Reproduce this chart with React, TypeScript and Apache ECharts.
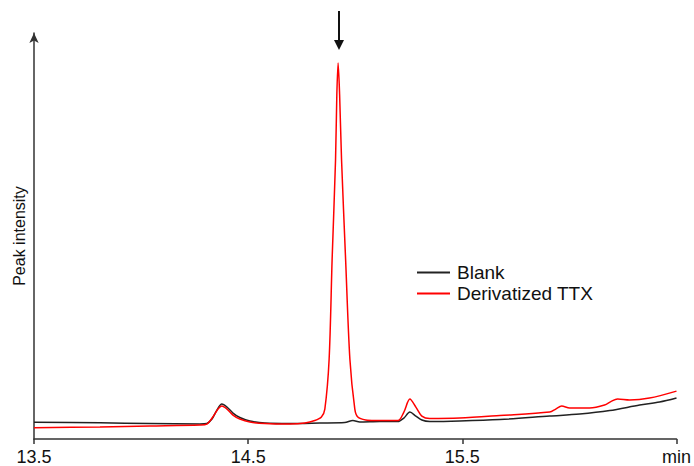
import React, { useEffect, useRef } from "react";
import * as echarts from "echarts";

const xTicks = [13.5, 14.5, 15.5, 16.5];
const xTickLabels = ["13.5", "14.5", "15.5", "min"];
const seriesNames = ["Blank", "Derivatized TTX"];

const blankTime = [
  13.5, 13.808, 14.041, 14.275, 14.307, 14.331, 14.354, 14.377, 14.401, 14.429, 14.461, 14.508,
  14.578, 14.695, 14.835, 14.951, 14.989, 15.021, 15.115, 15.199, 15.227, 15.255, 15.283, 15.311,
  15.348, 15.488, 15.675, 15.908, 16.048, 16.188, 16.328, 16.421, 16.5,
];
const blankValue = [
  16.7, 16.2, 15.5, 15, 15.5, 20, 29, 35, 32, 26, 21.5, 18,
  16, 15.5, 16, 16.5, 18.5, 17, 17.5, 17.5, 21, 27, 23, 19,
  17.5, 18, 19.5, 23, 25, 28.5, 34, 37, 41,
];

const ttxTime = [
  13.5, 13.808, 14.041, 14.275, 14.307, 14.335, 14.359, 14.377, 14.401, 14.429, 14.461, 14.508,
  14.578, 14.695, 14.765, 14.811, 14.842, 14.858, 14.878, 14.892, 14.908, 14.914, 14.92, 14.927,
  14.936, 14.955, 14.975, 14.998, 15.012, 15.049, 15.092, 15.199, 15.227, 15.255, 15.283, 15.311,
  15.348, 15.488, 15.675, 15.908, 15.936, 15.964, 16.001, 16.094, 16.164, 16.197, 16.225, 16.281,
  16.374, 16.5,
];
const ttxValue = [
  11.3, 12, 13, 14, 15, 22, 30, 33, 30, 24, 20, 17,
  15.5, 15, 16, 18.5, 22, 30, 80, 180, 280, 345, 377, 345,
  280, 180, 80, 30, 22, 19, 18.5, 18.5, 27, 40, 32, 23,
  20.5, 21, 23.5, 27, 30, 33, 31, 31, 34, 38, 40, 39,
  41, 48,
];

const FONT = "'Liberation Sans', Arial, sans-serif";

export default function App() {
  const ref = useRef<HTMLDivElement>(null);
  useEffect(() => {
    if (!ref.current) return;
    const chart = echarts.init(ref.current, undefined, { renderer: "svg" });
    const pair = (t: number[], v: number[]) => t.map((x, i) => [x, v[i]]);
    chart.setOption({
      animation: false,
      textStyle: { fontFamily: FONT },
      grid: { left: 34, right: 17, top: 33, bottom: 26, containLabel: false },
      legend: {
        left: 417,
        top: 262,
        padding: 0,
        orient: "vertical",
        icon: "rect",
        itemWidth: 33,
        itemHeight: 2,
        itemGap: 0,
        textStyle: { fontFamily: FONT, fontSize: 19, color: "#111", lineHeight: 21, padding: [0, 0, 0, 2] },
        data: seriesNames,
      },
      xAxis: {
        type: "value",
        min: 13.5,
        max: 16.5,
        interval: 1,
        axisLine: { show: true, lineStyle: { color: "#333", width: 1.5 } },
        axisTick: { show: true, length: 5, lineStyle: { color: "#333", width: 1.5 } },
        axisLabel: {
          fontFamily: FONT,
          fontSize: 18,
          color: "#111",
          margin: 9,
          formatter: (v: number) => {
            const i = xTicks.findIndex((t) => Math.abs(t - v) < 1e-6);
            return i >= 0 ? xTickLabels[i] : "";
          },
        },
        splitLine: { show: false },
      },
      yAxis: {
        type: "value",
        min: 0,
        max: 407,
        name: "Peak intensity",
        nameLocation: "middle",
        nameGap: 7,
        nameTextStyle: { fontFamily: FONT, fontSize: 16, color: "#111" },
        axisLine: {
          show: true,
          symbol: ["none", "arrow"],
          symbolSize: [7, 10],
          lineStyle: { color: "#333", width: 1.5 },
        },
        axisTick: { show: false },
        axisLabel: { show: false },
        splitLine: { show: false },
      },
      graphic: [
        { type: "line", shape: { x1: 339, y1: 11, x2: 339, y2: 42 }, style: { stroke: "#111", lineWidth: 2 } },
        { type: "polygon", shape: { points: [[334, 40], [344, 40], [339, 50]] }, style: { fill: "#111" } },
      ],
      series: [
        {
          name: seriesNames[0],
          type: "line",
          data: pair(blankTime, blankValue),
          symbol: "none",
          smooth: 0.3,
          lineStyle: { color: "#222", width: 1.5 },
          itemStyle: { color: "#222" },
          z: 2,
        },
        {
          name: seriesNames[1],
          type: "line",
          data: pair(ttxTime, ttxValue),
          symbol: "none",
          smooth: 0.3,
          lineStyle: { color: "#ff0000", width: 1.5 },
          itemStyle: { color: "#ff0000" },
          z: 3,
        },
      ],
    });
    return () => chart.dispose();
  }, []);
  return <div ref={ref} style={{ width: 694, height: 466, position: "absolute", left: 0, top: 0 }} />;
}
